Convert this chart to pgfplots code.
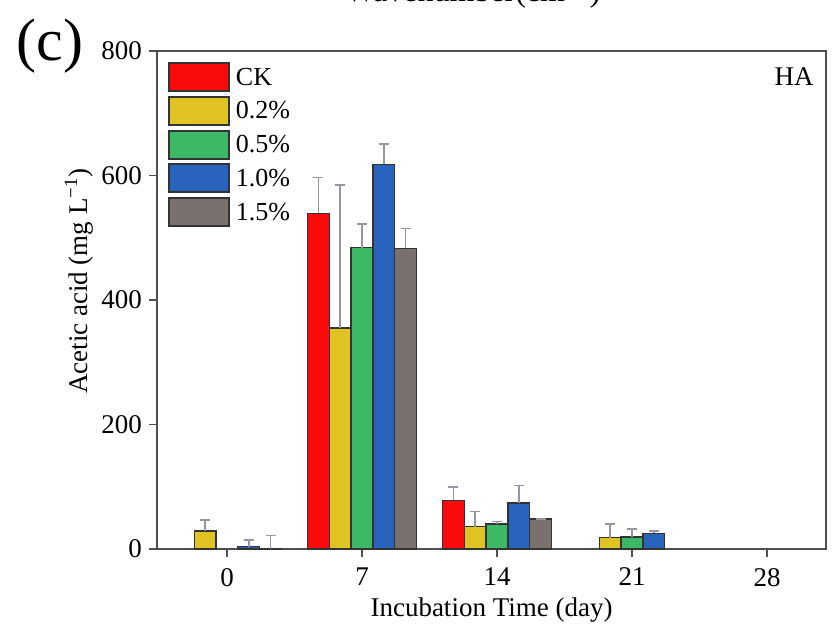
\documentclass[border=0pt]{standalone}
\usepackage{fontspec}
\setmainfont{Liberation Serif}
\usepackage{pgfplots}
\pgfplotsset{compat=1.18}
\definecolor{cRed}{RGB}{250,10,10}
\definecolor{cYel}{RGB}{222,195,35}
\definecolor{cGrn}{RGB}{60,185,100}
\definecolor{cBlu}{RGB}{40,100,190}
\definecolor{cGry}{RGB}{122,113,110}
\definecolor{frame}{RGB}{80,80,80}
\definecolor{errc}{RGB}{150,150,160}
\begin{document}
\begin{tikzpicture}
\useasboundingbox (-78.5pt,-43.5pt) rectangle (338pt,274.5pt);
\begin{axis}[
 at={(0,0)}, anchor=south west,
 scale only axis, width=334.5pt, height=249pt,
 ybar=0pt, bar width=10.9pt,
 xmin=-3.63, xmax=31.06, ymin=0, ymax=800,
 xtick={0,7,14,21,28}, ytick={0,200,400,600,800},
 tick align=outside, xtick pos=bottom, ytick pos=left,
 major tick length=4pt,
 tick style={line width=0.9pt, color=frame},
 axis line style={line width=1pt, color=frame},
 /pgf/number format/assume math mode=true,
 tick label style={font=\fontsize{13.5}{15}\selectfont},
 xticklabel style={yshift=-2pt},
 label style={font=\fontsize{13.5}{15}\selectfont},
 xlabel={Incubation Time (day)},
 ylabel={Acetic acid (mg L\textsuperscript{−1})},
 xlabel style={at={(axis description cs:0.5,-0.122)}, anchor=center},
 ylabel style={at={(axis description cs:-0.1166,0.538)}, anchor=center},
 error bars/y dir=plus, error bars/y explicit,
 error bars/error bar style={line width=0.8pt, color=errc},
 error bars/error mark options={line width=0.8pt, color=errc, mark size=2.5pt, rotate=90},
 legend style={draw=none, fill=none, at={(0.0164,0.978)}, anchor=north west,
   inner sep=0pt, outer sep=0pt, row sep=1.9pt,
   font=\fontsize{13}{15}\selectfont, nodes={inner sep=0pt},
   /tikz/every odd column/.append style={column sep=3pt}},
 legend cell align=left,
 legend image code/.code={\draw[#1, line width=1pt, draw=black!80] (0pt,-6.5pt) rectangle (30pt,7.5pt);},
]
\addplot[fill=cRed, draw=black!80, line width=0.7pt] coordinates {
 (7,539) +- (0,58)
 (14,78) +- (0,22)
};
\addplot[fill=cYel, draw=black!80, line width=0.7pt] coordinates {
 (0,29) +- (0,18)
 (7,355) +- (0,230)
 (14,36) +- (0,24)
 (21,18) +- (0,22)
};
\addplot[fill=cGrn, draw=black!80, line width=0.7pt] coordinates {
 (7,484) +- (0,38)
 (14,40) +- (0,4)
 (21,19) +- (0,13)
};
\addplot[fill=cBlu, draw=black!80, line width=0.7pt] coordinates {
 (0,4) +- (0,10)
 (7,618) +- (0,33)
 (14,74) +- (0,28)
 (21,25) +- (0,4)
};
\addplot[fill=cGry, draw=black!80, line width=0.7pt] coordinates {
 (0,0) +- (0,22)
 (7,483) +- (0,32)
 (14,48) +- (0,0)
};
\legend{CK,0.2\%,0.5\%,1.0\%,1.5\%}
\end{axis}
\node[font=\fontsize{13.5}{15}\selectfont] at (318.5pt,236pt) {HA};
\node[font=\fontsize{30}{31}\selectfont] at (-53.5pt,251.5pt) {(c)};
\node[font=\fontsize{16}{18}\selectfont, anchor=base] at (158pt,273.5pt) {Wavenumber(cm\textsuperscript{−1})};
\end{tikzpicture}
\end{document}
